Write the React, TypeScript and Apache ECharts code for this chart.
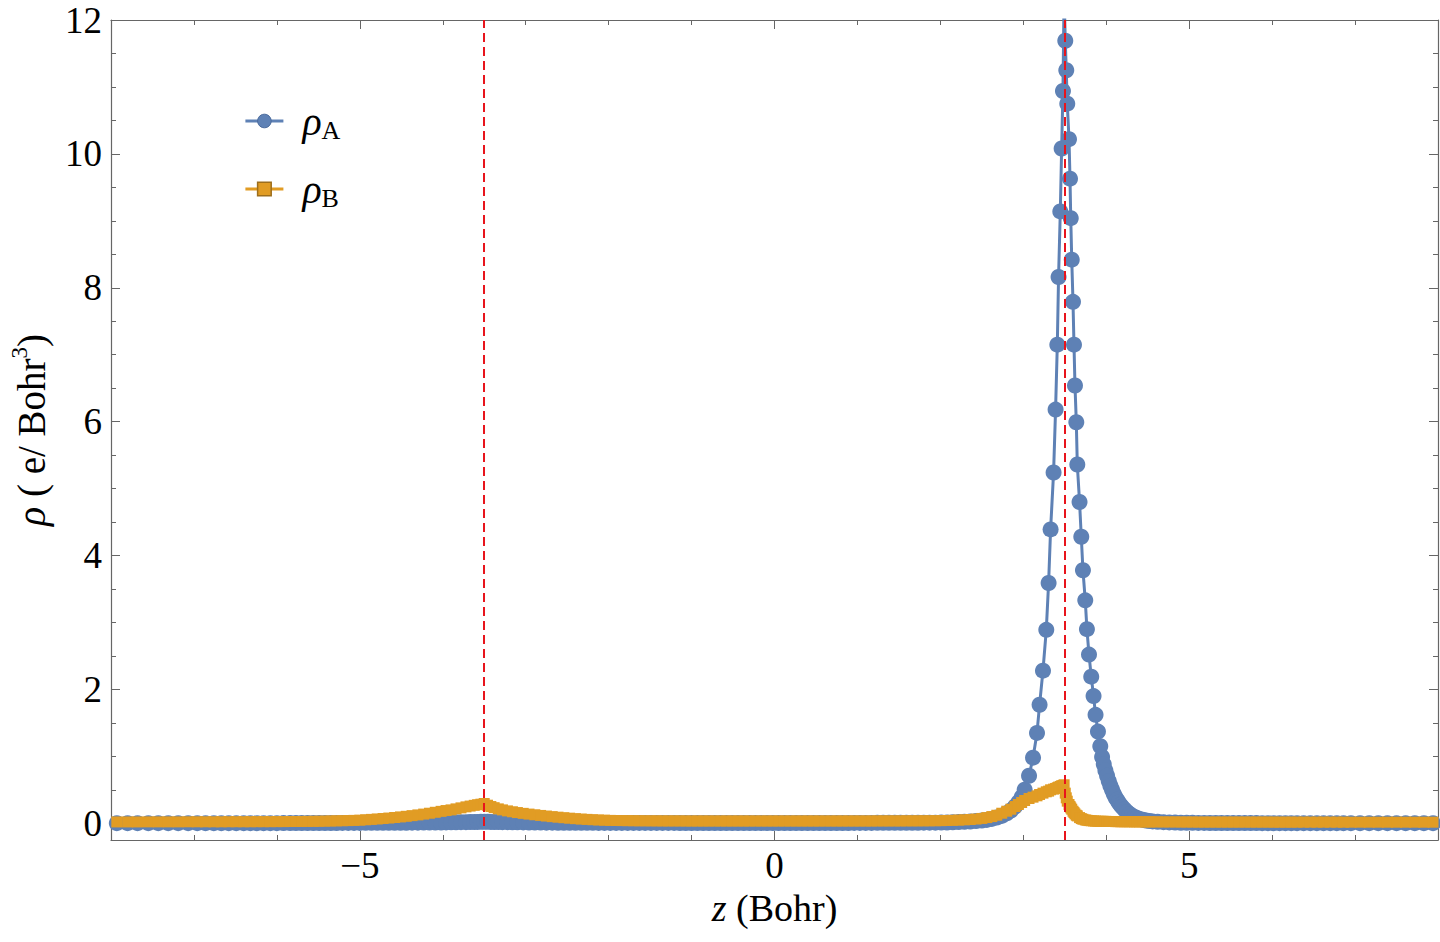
import React, { useEffect, useRef } from "react";
import * as echarts from "echarts";

// ---------- data ----------
// region 1: outer left
const zOuterLeft = [-7.93, -7.8, -7.68, -7.55, -7.43, -7.31, -7.19, -7.07, -6.96, -6.86, -6.76, -6.67, -6.58, -6.49, -6.4, -6.32, -6.24, -6.16, -6.08, -6.0, -5.92, -5.84, -5.77, -5.7, -5.63, -5.56, -5.49, -5.42, -5.35, -5.28, -5.21, -5.14, -5.07, -5.0, -4.93, -4.86, -4.79, -4.72, -4.65, -4.58, -4.51, -4.44, -4.37, -4.3, -4.23, -4.16, -4.09, -4.02];
const rhoAOuterLeft = [0.002, 0.002, 0.002, 0.002, 0.002, 0.002, 0.002, 0.002, 0.002, 0.002, 0.002, 0.002, 0.002, 0.002, 0.002, 0.002, 0.002, 0.002, 0.002, 0.002, 0.003, 0.003, 0.003, 0.003, 0.003, 0.004, 0.004, 0.004, 0.004, 0.004, 0.005, 0.005, 0.005, 0.005, 0.006, 0.006, 0.006, 0.007, 0.007, 0.007, 0.008, 0.008, 0.009, 0.009, 0.01, 0.01, 0.011, 0.012];
const rhoBOuterLeft = [0.02, 0.02, 0.02, 0.021, 0.021, 0.021, 0.021, 0.022, 0.022, 0.022, 0.022, 0.022, 0.023, 0.023, 0.023, 0.023, 0.024, 0.024, 0.024, 0.025, 0.025, 0.026, 0.026, 0.027, 0.028, 0.029, 0.03, 0.032, 0.034, 0.036, 0.038, 0.04, 0.043, 0.046, 0.052, 0.058, 0.064, 0.071, 0.078, 0.086, 0.095, 0.104, 0.114, 0.125, 0.137, 0.15, 0.164, 0.178];

// region 2: around the left nucleus
const zLeftNucleus = [-3.96, -3.9, -3.84, -3.78, -3.72, -3.67, -3.62, -3.58, -3.54, -3.5, -3.46, -3.42, -3.38, -3.33, -3.28, -3.22, -3.16, -3.1, -3.03, -2.96, -2.89, -2.82, -2.75, -2.68, -2.61, -2.54, -2.47, -2.4, -2.33, -2.26, -2.19, -2.12, -2.05, -1.98, -1.91];
const rhoALeftNucleus = [0.013, 0.014, 0.015, 0.016, 0.017, 0.018, 0.019, 0.02, 0.021, 0.022, 0.021, 0.02, 0.019, 0.018, 0.017, 0.016, 0.015, 0.014, 0.013, 0.012, 0.011, 0.01, 0.009, 0.009, 0.008, 0.008, 0.007, 0.007, 0.006, 0.006, 0.006, 0.005, 0.005, 0.005, 0.005];
const rhoBLeftNucleus = [0.19, 0.2, 0.215, 0.23, 0.245, 0.257, 0.268, 0.277, 0.285, 0.295, 0.27, 0.25, 0.233, 0.215, 0.2, 0.185, 0.172, 0.16, 0.148, 0.137, 0.127, 0.117, 0.108, 0.099, 0.091, 0.083, 0.076, 0.069, 0.063, 0.058, 0.053, 0.049, 0.046, 0.043, 0.041];

// region 3: between the nuclei
const zMiddle = [-1.84, -1.77, -1.7, -1.63, -1.56, -1.49, -1.42, -1.35, -1.28, -1.21, -1.14, -1.07, -1.0, -0.93, -0.86, -0.79, -0.72, -0.65, -0.58, -0.51, -0.44, -0.37, -0.3, -0.23, -0.16, -0.09, -0.02, 0.05, 0.12, 0.19, 0.26, 0.33, 0.4, 0.47, 0.54, 0.61, 0.68, 0.75, 0.82, 0.89, 0.96, 1.03, 1.1, 1.17, 1.24, 1.31, 1.38, 1.45, 1.52, 1.59, 1.66, 1.73, 1.8, 1.87, 1.94];
const rhoAMiddle = [0.005, 0.005, 0.005, 0.005, 0.005, 0.005, 0.005, 0.005, 0.005, 0.005, 0.004, 0.004, 0.004, 0.004, 0.004, 0.004, 0.004, 0.004, 0.004, 0.004, 0.004, 0.004, 0.004, 0.004, 0.004, 0.004, 0.004, 0.004, 0.004, 0.004, 0.004, 0.004, 0.004, 0.004, 0.004, 0.004, 0.004, 0.004, 0.004, 0.004, 0.005, 0.005, 0.005, 0.005, 0.006, 0.006, 0.006, 0.007, 0.007, 0.008, 0.008, 0.008, 0.009, 0.009, 0.009];
const rhoBMiddle = [0.04, 0.039, 0.038, 0.037, 0.037, 0.036, 0.036, 0.035, 0.035, 0.035, 0.035, 0.034, 0.034, 0.034, 0.034, 0.034, 0.034, 0.034, 0.034, 0.034, 0.034, 0.034, 0.034, 0.034, 0.034, 0.034, 0.034, 0.034, 0.034, 0.034, 0.034, 0.034, 0.034, 0.034, 0.034, 0.034, 0.034, 0.034, 0.034, 0.034, 0.034, 0.034, 0.034, 0.034, 0.035, 0.035, 0.035, 0.035, 0.035, 0.036, 0.036, 0.036, 0.037, 0.037, 0.038];

// region 4: rise toward the right nucleus
const zRightRamp = [2.01, 2.08, 2.15, 2.22, 2.29, 2.36, 2.43, 2.5, 2.56, 2.62, 2.68, 2.74, 2.8, 2.85, 2.9, 2.94, 2.98];
const rhoARightRamp = [0.01, 0.012, 0.015, 0.018, 0.022, 0.027, 0.033, 0.04, 0.05, 0.065, 0.085, 0.11, 0.15, 0.19, 0.25, 0.31, 0.39];
const rhoBRightRamp = [0.039, 0.041, 0.044, 0.047, 0.051, 0.056, 0.063, 0.072, 0.085, 0.1, 0.12, 0.15, 0.18, 0.21, 0.25, 0.28, 0.31];

// region 5: the right nucleus peak
const zRightPeak = [3.016, 3.069, 3.117, 3.165, 3.196, 3.237, 3.277, 3.305, 3.329, 3.365, 3.389, 3.41, 3.425, 3.446, 3.462, 3.478, 3.492, 3.506, 3.518, 3.53, 3.551, 3.563, 3.572, 3.584, 3.599, 3.611, 3.623, 3.639, 3.651, 3.678, 3.699, 3.719, 3.747, 3.767, 3.792, 3.819, 3.847, 3.871, 3.9, 3.928];
const rhoARightPeak = [0.5, 0.71, 0.98, 1.35, 1.77, 2.28, 2.89, 3.59, 4.39, 5.24, 6.18, 7.15, 8.16, 9.14, 10.08, 10.94, 12.4, 11.69, 11.25, 10.75, 10.22, 9.63, 9.04, 8.42, 7.79, 7.15, 6.54, 5.99, 5.36, 4.8, 4.28, 3.78, 3.33, 2.9, 2.52, 2.19, 1.9, 1.62, 1.37, 1.15];
const rhoBRightPeak = [0.34, 0.37, 0.39, 0.41, 0.43, 0.45, 0.47, 0.48, 0.5, 0.51, 0.52, 0.53, 0.54, 0.55, 0.56, 0.565, 0.575, 0.45, 0.38, 0.33, 0.28, 0.25, 0.23, 0.21, 0.18, 0.16, 0.14, 0.12, 0.11, 0.085, 0.07, 0.06, 0.05, 0.045, 0.04, 0.037, 0.034, 0.032, 0.03, 0.029];

// region 6: right tail
const zRightTail = [3.95, 3.97, 3.99, 4.01, 4.03, 4.05, 4.07, 4.09, 4.11, 4.13, 4.15, 4.17, 4.19, 4.22, 4.25, 4.28, 4.31, 4.34, 4.37, 4.4, 4.44, 4.48, 4.52, 4.56, 4.62, 4.69, 4.76, 4.83, 4.9, 4.97, 5.04, 5.11, 5.18, 5.25, 5.32, 5.39, 5.46, 5.53, 5.6, 5.67, 5.74, 5.81, 5.88, 5.95, 6.02, 6.09, 6.16, 6.23, 6.3, 6.38, 6.46, 6.54, 6.62, 6.7, 6.78, 6.86, 6.95, 7.06, 7.17, 7.28, 7.39, 7.5, 7.61, 7.72, 7.83, 7.94];
const rhoARightTail = [0.99, 0.88, 0.79, 0.71, 0.63, 0.56, 0.5, 0.44, 0.39, 0.35, 0.31, 0.275, 0.245, 0.205, 0.17, 0.14, 0.115, 0.095, 0.08, 0.065, 0.052, 0.042, 0.034, 0.028, 0.022, 0.017, 0.013, 0.01, 0.008, 0.007, 0.006, 0.005, 0.005, 0.004, 0.004, 0.004, 0.003, 0.003, 0.003, 0.003, 0.003, 0.003, 0.002, 0.002, 0.002, 0.002, 0.002, 0.002, 0.002, 0.002, 0.002, 0.002, 0.002, 0.002, 0.002, 0.002, 0.002, 0.002, 0.002, 0.002, 0.002, 0.002, 0.002, 0.002, 0.002, 0.002];
const rhoBRightTail = [0.029, 0.028, 0.028, 0.027, 0.027, 0.026, 0.026, 0.026, 0.025, 0.025, 0.025, 0.024, 0.024, 0.024, 0.023, 0.023, 0.023, 0.022, 0.022, 0.022, 0.022, 0.021, 0.021, 0.021, 0.021, 0.02, 0.02, 0.02, 0.019, 0.019, 0.019, 0.018, 0.018, 0.018, 0.018, 0.018, 0.018, 0.018, 0.018, 0.018, 0.018, 0.018, 0.018, 0.018, 0.017, 0.017, 0.017, 0.017, 0.017, 0.017, 0.017, 0.017, 0.017, 0.017, 0.017, 0.016, 0.016, 0.016, 0.016, 0.016, 0.016, 0.016, 0.016, 0.016, 0.016, 0.016];

// nuclear positions (red dashed lines)
const nucleiZ = [-3.5, 3.5];

// axis ticks
const xMajorTicks = [-5, 0, 5];
const xMinorTicks = [-7, -6, -4, -3, -2, -1, 1, 2, 3, 4, 6, 7];
const yMajorTicks = [0, 2, 4, 6, 8, 10, 12];
const yMinorTicks = [0.5, 1, 1.5, 2.5, 3, 3.5, 4.5, 5, 5.5, 6.5, 7, 7.5, 8.5, 9, 9.5, 10.5, 11, 11.5];
const xRange = [-8, 8];
const yRange = [-0.25, 12];

const zAll = [...zOuterLeft, ...zLeftNucleus, ...zMiddle, ...zRightRamp, ...zRightPeak, ...zRightTail];
const rhoAAll = [...rhoAOuterLeft, ...rhoALeftNucleus, ...rhoAMiddle, ...rhoARightRamp, ...rhoARightPeak, ...rhoARightTail];
const rhoBAll = [...rhoBOuterLeft, ...rhoBLeftNucleus, ...rhoBMiddle, ...rhoBRightRamp, ...rhoBRightPeak, ...rhoBRightTail];

const BLUE = "#5E81B5";
const ORANGE = "#E19C24";
const FRAME = "#666666";
const SERIF = "'Liberation Serif', 'Times New Roman', serif";
const TICK_FONT = 37;

function minus(v: number): string {
  return v < 0 ? "\u2212" + Math.abs(v) : String(v);
}

function xAxisDef(position: "bottom" | "top", ticks: number[], len: number, main: boolean, labels: boolean): any {
  return {
    type: "value",
    position,
    min: xRange[0],
    max: xRange[1],
    axisLine: { show: main, onZero: false, lineStyle: { color: FRAME, width: 1.2 } },
    axisTick: { show: true, inside: true, length: len, customValues: ticks, lineStyle: { color: FRAME, width: 1 } },
    axisLabel: labels
      ? { show: true, customValues: ticks, formatter: (v: number) => minus(v), fontFamily: SERIF, fontSize: TICK_FONT, color: "#000", margin: 7 }
      : { show: false },
    splitLine: { show: false },
    minorTick: { show: false },
  };
}

function yAxisDef(position: "left" | "right", ticks: number[], len: number, main: boolean, labels: boolean): any {
  return {
    type: "value",
    position,
    min: yRange[0],
    max: yRange[1],
    axisLine: { show: main, onZero: false, lineStyle: { color: FRAME, width: 1.2 } },
    axisTick: { show: true, inside: true, length: len, customValues: ticks, lineStyle: { color: FRAME, width: 1 } },
    axisLabel: labels
      ? { show: true, customValues: ticks, formatter: (v: number) => minus(v), fontFamily: SERIF, fontSize: TICK_FONT, color: "#000", margin: 9 }
      : { show: false },
    splitLine: { show: false },
    minorTick: { show: false },
  };
}

export default function App() {
  const ref = useRef<HTMLDivElement>(null);

  useEffect(() => {
    if (!ref.current) return;
    const chart = echarts.init(ref.current, null, { renderer: "svg" });

    const xs: any[] = [
      xAxisDef("bottom", xMajorTicks, 9, true, true),
      xAxisDef("bottom", xMinorTicks, 5, false, false),
      xAxisDef("top", xMajorTicks, 9, true, false),
      xAxisDef("top", xMinorTicks, 5, false, false),
    ];
    xs[0].name = "{i|z}{n| (Bohr)}";
    xs[0].nameLocation = "middle";
    xs[0].nameGap = 42;
    xs[0].nameTextStyle = {
      color: "#000",
      rich: {
        i: { fontFamily: SERIF, fontStyle: "italic", fontSize: 38, color: "#000" },
        n: { fontFamily: SERIF, fontSize: 38, color: "#000" },
      },
    };

    const ys: any[] = [
      yAxisDef("left", yMajorTicks, 9, true, true),
      yAxisDef("left", yMinorTicks, 5, false, false),
      yAxisDef("right", yMajorTicks, 9, true, false),
      yAxisDef("right", yMinorTicks, 5, false, false),
    ];
    ys[0].name = "{i|\u03C1}{n| ( e/ Bohr}{sup|3}{n|)}";
    ys[0].nameLocation = "middle";
    ys[0].nameRotate = 90;
    ys[0].nameGap = 57;
    ys[0].nameTextStyle = {
      color: "#000",
      rich: {
        i: { fontFamily: SERIF, fontStyle: "italic", fontSize: 40, lineHeight: 46, color: "#000" },
        n: { fontFamily: SERIF, fontSize: 39, lineHeight: 46, color: "#000" },
        sup: { fontFamily: SERIF, fontSize: 23, lineHeight: 24, verticalAlign: "top", color: "#000" },
      },
    };

    const option: any = {
      animation: false,
      backgroundColor: "#fff",
      grid: { left: 109, right: 2, top: 20, bottom: 102, containLabel: false },
      xAxis: xs,
      yAxis: ys,
      legend: {
        show: true,
        orient: "vertical",
        left: 239,
        top: 96,
        itemWidth: 38,
        itemHeight: 17,
        itemGap: 26,
        selectedMode: false,
        data: [
          { name: "rhoA", itemStyle: { borderColor: "#4a6a9c", borderWidth: 1 }, lineStyle: { width: 2.8, color: BLUE } },
          { name: "rhoB", itemStyle: { borderColor: "#9d6e1c", borderWidth: 1.5 }, lineStyle: { width: 2.8, color: ORANGE } },
        ],
        formatter: (name: string) => (name === "rhoA" ? "{r|\u03C1}{s|A}" : "{r|\u03C1}{s|B}"),
        textStyle: {
          rich: {
            r: { fontFamily: SERIF, fontStyle: "italic", fontSize: 40, lineHeight: 44, color: "#000", padding: [0, 0, 0, 14] },
            s: { fontFamily: SERIF, fontSize: 26, lineHeight: 30, verticalAlign: "bottom", color: "#000" },
          },
        },
      },
      series: [
        {
          name: "rhoA",
          type: "line",
          xAxisIndex: 0,
          yAxisIndex: 0,
          data: zAll.map((z, i) => [z, rhoAAll[i]]),
          symbol: "circle",
          symbolSize: 16,
          showAllSymbol: true,
          clip: true,
          silent: true,
          lineStyle: { color: BLUE, width: 3 },
          itemStyle: { color: BLUE },
          emphasis: { disabled: true },
        },
        {
          name: "rhoB",
          type: "line",
          xAxisIndex: 0,
          yAxisIndex: 0,
          data: zAll.map((z, i) => [z, rhoBAll[i]]),
          symbol: "rect",
          symbolSize: 11,
          showAllSymbol: true,
          clip: true,
          silent: true,
          lineStyle: { color: ORANGE, width: 3 },
          itemStyle: { color: ORANGE },
          emphasis: { disabled: true },
          markLine: {
            silent: true,
            symbol: ["none", "none"],
            label: { show: false },
            lineStyle: { color: "#e8141c", width: 2, type: [9, 5] },
            emphasis: { disabled: true },
            data: nucleiZ.map((z) => ({ xAxis: z })),
          },
        },
      ],
    };

    chart.setOption(option);
    return () => chart.dispose();
  }, []);

  return (
    <div
      ref={ref}
      style={{ position: "absolute", left: 0, top: 0, width: 1440, height: 942, background: "#fff" }}
    />
  );
}
